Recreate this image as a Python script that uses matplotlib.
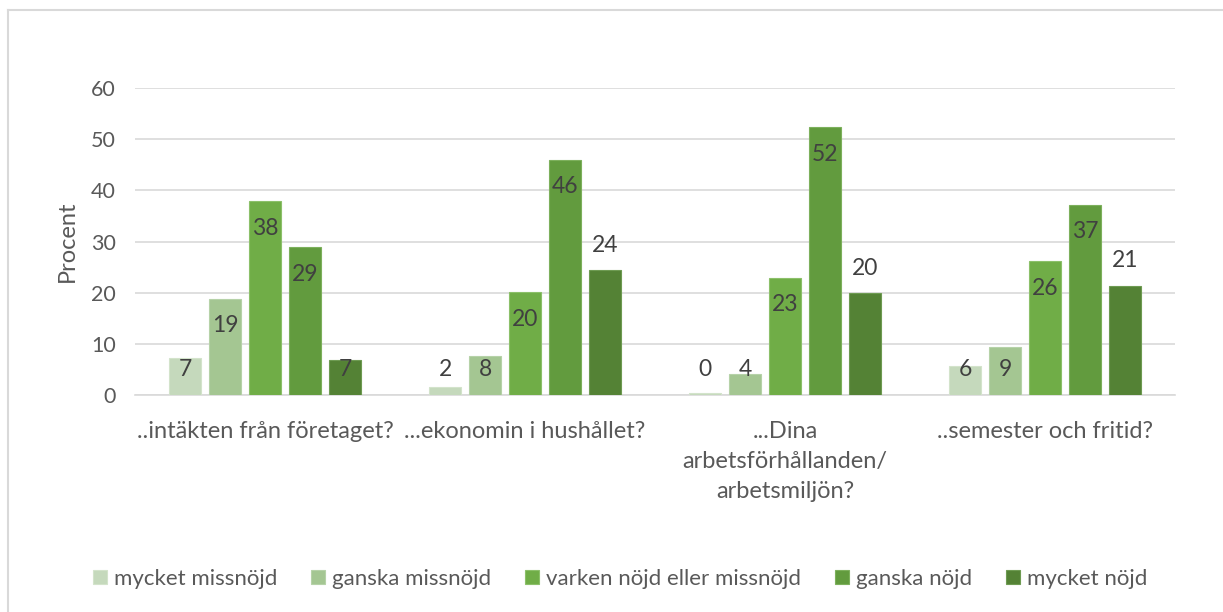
import matplotlib
matplotlib.use("Agg")
import matplotlib.pyplot as plt
import numpy as np
from matplotlib.lines import Line2D

categories = ["..intäkten från företaget?", "...ekonomin i hushållet?",
              "...Dina\narbetsförhållanden/\narbetsmiljön?", "..semester och fritid?"]
series_names = ["mycket missnöjd", "ganska missnöjd", "varken nöjd eller missnöjd",
                "ganska nöjd", "mycket nöjd"]
mycket_missnojd = [7.2, 1.6, 0.4, 5.6]
ganska_missnojd = [18.8, 7.6, 4.1, 9.3]
varken = [37.9, 20.1, 22.9, 26.2]
ganska_nojd = [28.9, 46.0, 52.3, 37.2]
mycket_nojd = [6.8, 24.4, 19.9, 21.4]
values = [mycket_missnojd, ganska_missnojd, varken, ganska_nojd, mycket_nojd]
# label placement per series per category: inside end or outside end
label_pos = [["in"] * 4, ["in"] * 4, ["in"] * 4, ["in"] * 4,
             ["in", "out", "out", "out"]]
yticks = [0, 10, 20, 30, 40, 50, 60]

colors = ["#C5D9BC", "#A4C692", "#70AD47", "#629B3E", "#548235"]
edge = ["#D3E3CB", "#B6D2A8", "#8CC06A", "#7DB05C", "#6E9B52"]
text_col = "#595959"
lab_col = "#404040"

plt.rcParams["font.family"] = ["Lato", "DejaVu Sans"]

fig = plt.figure(figsize=(12.23, 6.12), dpi=100)
ax = fig.add_axes([135 / 1223, 1 - 395 / 612, (1175 - 135) / 1223, (395 - 88) / 612])

x = np.arange(len(categories))
pitch = 40 / 260
width = 32 / 260
for i, (vals, col) in enumerate(zip(values, colors)):
    xs = x + (i - 2) * pitch
    ax.bar(xs, vals, width=width, color=col, edgecolor=edge[i], linewidth=0.8,
           label=series_names[i], zorder=3)
    for xi, v, pos in zip(xs, vals, label_pos[i]):
        y = v - 5.3 if pos == "in" else v + 4.9
        y = max(y, 4.9)
        ax.text(xi, y, f"{v:.0f}", ha="center", va="center", fontsize=16.5,
                color=lab_col, zorder=4)

ax.set_xlim(-0.5, 3.5)
ax.set_ylim(0, 60)
ax.set_yticks(yticks)
ax.set_yticklabels([str(t) for t in yticks])
ax.yaxis.grid(True, color="#D9D9D9", linewidth=1.2, zorder=0)
ax.set_axisbelow(True)
for s in ["top", "right", "left"]:
    ax.spines[s].set_visible(False)
ax.spines["bottom"].set_color("#D9D9D9")
ax.spines["bottom"].set_linewidth(1.2)
ax.tick_params(axis="y", length=0, pad=14, labelsize=15.5, labelcolor=text_col)
ax.tick_params(axis="x", length=0, pad=19, labelsize=17, labelcolor=text_col)
ax.set_xticks(x)
ax.set_xticklabels(categories, linespacing=1.53)
ax.set_ylabel("Procent", fontsize=17, color=text_col, labelpad=9)

handles, labels = ax.get_legend_handles_labels()
leg = fig.legend(handles, labels, loc="center", bbox_to_anchor=(0.507, 0.054), ncol=5,
                 frameon=False, fontsize=16, handlelength=0.62, handleheight=0.62,
                 handletextpad=0.3, columnspacing=1.55, labelcolor=text_col)

# partial chart border (left and top edges visible)
fig.add_artist(Line2D([7.5 / 1223, 7.5 / 1223], [0, 1 - 10 / 612], transform=fig.transFigure,
                      color="#D9D9D9", linewidth=1.5))
fig.add_artist(Line2D([7.5 / 1223, 1], [1 - 10 / 612, 1 - 10 / 612], transform=fig.transFigure,
                      color="#D9D9D9", linewidth=1.5))

fig.savefig("out.png", dpi=100)
